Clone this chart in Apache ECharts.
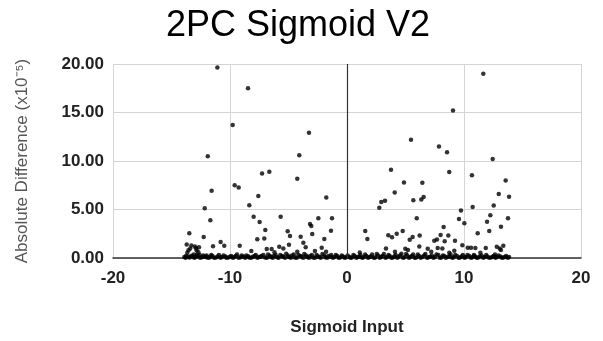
<!DOCTYPE html>
<html>
<head>
<meta charset="utf-8">
<script src="https://cdn.jsdelivr.net/npm/echarts@6/dist/echarts.min.js"></script>
<style>
  html, body { margin: 0; padding: 0; background: #fff; }
  #chart { width: 603px; height: 341px; }
</style>
</head>
<body>
<div id="chart"></div>
<script>
// values: [sigmoid input, absolute difference x1e-5]
var leftPoints = [
  [-11.08, 19.65], [-11.9, 10.5], [-8.46, 17.5], [-9.77, 13.7], [-3.25, 12.9], [-4.08, 10.6],
  [-11.57, 6.94], [-12.16, 5.13], [-11.68, 3.9], [-13.48, 2.55], [-12.25, 2.17], [-10.8, 1.66],
  [-10.49, 1.26], [-11.45, 1.22], [-13.7, 1.39], [-13.0, 1.19], [-12.65, 1.12], [-13.4, 0.98],
  [-12.85, 0.78], [-13.65, 0.54], [-13.1, 0.37], [-12.6, 0.3], [-12.0, 0.27], [-13.3, 1.3],
  [-12.9, 1.0], [-13.55, 0.8], [-12.7, 0.6],
  [-7.26, 8.7], [-6.64, 8.9], [-9.6, 7.5], [-9.26, 7.28], [-4.25, 8.16], [-7.58, 6.39],
  [-1.77, 6.25], [-8.35, 5.44], [-7.98, 4.25], [-7.47, 3.7], [-5.67, 4.25], [-2.45, 4.11],
  [-1.28, 4.11], [-3.16, 3.5], [-3.05, 3.3], [-6.98, 2.89], [-5.07, 2.75], [-4.87, 2.28],
  [-1.37, 2.82], [-2.97, 2.48], [-3.96, 2.2], [-1.94, 1.97], [-7.67, 1.94], [-7.07, 2.0],
  [-3.73, 1.56], [-4.96, 1.36], [-9.17, 1.26], [-5.79, 1.15], [-3.53, 1.12], [-6.86, 0.92],
  [-6.44, 0.92], [-5.44, 0.98], [-2.16, 1.05], [-8.18, 0.71], [-2.74, 0.71], [-1.79, 0.64],
  [-4.25, 0.64], [-6.2, 0.6]
];
var rightPoints = [
  [9.06, 15.2], [5.47, 12.2], [7.86, 11.5], [8.55, 10.9], [11.65, 19.0], [12.45, 10.2],
  [3.76, 9.11], [8.74, 8.87], [10.68, 8.53], [4.87, 7.79], [6.44, 7.75], [4.08, 6.76],
  [3.25, 5.91], [2.93, 5.78], [2.76, 5.17], [5.67, 5.95], [6.55, 6.29], [6.35, 6.02],
  [10.74, 5.27], [9.74, 4.9], [5.96, 4.11], [9.57, 4.01], [10.03, 3.57], [1.56, 2.79],
  [1.74, 1.97], [3.53, 2.35], [3.85, 2.14], [4.25, 2.51], [4.76, 2.79], [8.26, 3.19],
  [8.0, 2.38], [8.66, 2.31], [5.61, 2.17], [6.21, 2.31], [5.36, 1.87], [7.46, 1.77],
  [7.69, 1.9], [8.35, 1.73], [9.23, 1.77], [9.86, 1.32], [3.33, 0.98], [4.98, 0.95],
  [5.21, 0.82], [6.18, 1.19], [6.9, 0.95], [7.2, 0.64], [7.75, 1.02], [8.15, 0.98],
  [8.74, 0.54], [9.17, 0.74], [10.32, 1.05], [10.6, 1.05], [1.09, 0.57], [4.1, 0.64],
  [13.56, 7.99], [12.97, 6.59], [13.85, 6.32], [12.54, 5.41], [12.25, 4.42], [13.76, 4.11],
  [11.97, 3.73], [13.16, 3.23], [12.16, 2.79], [11.17, 2.55], [13.36, 1.26], [12.8, 1.15],
  [11.86, 1.02], [10.97, 1.02], [13.05, 0.98], [13.16, 0.82], [11.4, 0.54], [10.85, 0.3],
  [12.65, 0.37]
];
// the dense band of almost-zero differences
var nearZero = [
  [-13.9, 0.1], [-13.75, 0.2], [-13.45, 0.05], [-13.2, 0.15], [-12.95, 0.1], [-12.75, 0.2],
  [-12.4, 0.08], [-12.2, 0.15], [-11.95, 0.05], [-11.7, 0.12], [-11.5, 0.2], [-11.2, 0.06],
  [-10.95, 0.3], [-10.7, 0.1], [-10.4, 0.15], [-10.15, 0.05], [-9.9, 0.2], [-9.65, 0.1],
  [-9.4, 0.35], [-9.1, 0.08], [-8.85, 0.15], [-8.6, 0.25], [-8.35, 0.05], [-8.05, 0.12],
  [-7.8, 0.3], [-7.55, 0.1], [-7.3, 0.2], [-7.0, 0.05], [-6.75, 0.35], [-6.5, 0.1],
  [-6.25, 0.2], [-5.95, 0.08], [-5.7, 0.3], [-5.45, 0.12], [-5.2, 0.45], [-4.95, 0.1],
  [-4.7, 0.25], [-4.45, 0.05], [-4.15, 0.3], [-3.9, 0.15], [-3.65, 0.4], [-3.4, 0.1],
  [-3.15, 0.2], [-2.9, 0.05], [-2.6, 0.3], [-2.35, 0.12], [-2.1, 0.4], [-1.85, 0.08],
  [-1.6, 0.2], [-1.35, 0.3], [-1.1, 0.1], [-0.85, 0.2], [-0.6, 0.05], [-0.35, 0.15],
  [-0.1, 0.08], [0.15, 0.12], [0.4, 0.05], [0.65, 0.2], [0.9, 0.1], [1.15, 0.3],
  [1.4, 0.08], [1.65, 0.2], [1.9, 0.1], [2.15, 0.35], [2.4, 0.05], [2.65, 0.25],
  [2.9, 0.12], [3.15, 0.4], [3.4, 0.1], [3.65, 0.2], [3.9, 0.05], [4.15, 0.3],
  [4.4, 0.15], [4.65, 0.45], [4.9, 0.08], [5.15, 0.25], [5.4, 0.1], [5.65, 0.35],
  [5.9, 0.05], [6.15, 0.2], [6.45, 0.12], [6.7, 0.4], [6.95, 0.08], [7.25, 0.25],
  [7.5, 0.1], [7.8, 0.3], [8.05, 0.05], [8.3, 0.2], [8.6, 0.12], [8.85, 0.35],
  [9.1, 0.08], [9.4, 0.2], [9.65, 0.05], [9.9, 0.3], [10.15, 0.1], [10.45, 0.2],
  [10.7, 0.08], [10.95, 0.15], [11.2, 0.05], [11.5, 0.25], [11.75, 0.1], [12.0, 0.15],
  [12.3, 0.05], [12.55, 0.2], [12.8, 0.1], [13.1, 0.15], [13.35, 0.05], [13.6, 0.2],
  [13.85, 0.1]
];
var nearZeroB = [
  [-13.8, 0.02], [-13.55, 0.12], [-13.3, 0.22], [-13.05, 0.02], [-12.85, 0.3], [-12.55, 0.02],
  [-12.3, 0.25], [-12.05, 0.12], [-11.8, 0.02], [-11.6, 0.3], [-11.35, 0.02], [-11.05, 0.15],
  [-10.8, 0.02], [-10.55, 0.25], [-10.3, 0.02], [-10.0, 0.12], [-9.75, 0.02], [-9.5, 0.2],
  [-9.25, 0.02], [-9.0, 0.25], [-8.7, 0.02], [-8.45, 0.18], [-8.2, 0.02], [-7.9, 0.2],
  [-7.65, 0.02], [-7.4, 0.12], [-7.15, 0.3], [-6.85, 0.02], [-6.6, 0.22], [-6.35, 0.02],
  [-6.1, 0.3], [-5.85, 0.02], [-5.55, 0.2], [-5.3, 0.02], [-5.05, 0.25], [-4.8, 0.02],
  [-4.55, 0.35], [-4.3, 0.02], [-4.0, 0.2], [-3.75, 0.02], [-3.5, 0.25], [-3.25, 0.02],
  [-3.0, 0.3], [-2.75, 0.02], [-2.5, 0.15], [-2.25, 0.02], [-1.95, 0.25], [-1.7, 0.02],
  [-1.45, 0.12], [-1.2, 0.02], [-0.95, 0.3], [-0.7, 0.02], [-0.45, 0.25], [-0.2, 0.02],
  [0.05, 0.25], [0.3, 0.02], [0.55, 0.3], [0.8, 0.02], [1.05, 0.12], [1.3, 0.02],
  [1.55, 0.35], [1.8, 0.02], [2.05, 0.15], [2.3, 0.02], [2.55, 0.4], [2.8, 0.02],
  [3.05, 0.2], [3.3, 0.02], [3.55, 0.3], [3.8, 0.02], [4.05, 0.15], [4.3, 0.02],
  [4.55, 0.25], [4.8, 0.02], [5.05, 0.4], [5.3, 0.02], [5.55, 0.2], [5.8, 0.02],
  [6.05, 0.35], [6.3, 0.02], [6.6, 0.25], [6.85, 0.02], [7.1, 0.12], [7.4, 0.02],
  [7.65, 0.35], [7.95, 0.02], [8.2, 0.25], [8.45, 0.02], [8.75, 0.15], [9.0, 0.02],
  [9.25, 0.3], [9.55, 0.02], [9.8, 0.15], [10.05, 0.02], [10.3, 0.3], [10.6, 0.02],
  [10.85, 0.2], [11.1, 0.02], [11.35, 0.15], [11.65, 0.02], [11.9, 0.3], [12.15, 0.02],
  [12.45, 0.12], [12.7, 0.02], [12.95, 0.25], [13.25, 0.02], [13.5, 0.1], [13.75, 0.02]
];
var xTicks = [-20, -10, 0, 10, 20];
var yTicks = [0, 5, 10, 15, 20];

var chart = echarts.init(document.getElementById('chart'), null, { renderer: 'canvas' });

var font = 'Liberation Sans, Arial, sans-serif';
var option = {
  animation: false,
  backgroundColor: '#fff',
  title: {
    text: '2PC Sigmoid V2',
    left: 161,
    top: 3,
    textStyle: { fontFamily: font, fontSize: 36, fontWeight: 'normal', color: '#000' }
  },
  grid: { left: 113, right: 22, top: 64, bottom: 81 },
  xAxis: {
    type: 'value',
    min: xTicks[0],
    max: xTicks[xTicks.length - 1],
    interval: 10,
    name: 'Sigmoid Input',
    nameLocation: 'middle',
    nameGap: 61,
    nameTextStyle: { fontFamily: font, fontSize: 17, fontWeight: 'bold', color: '#222' },
    axisLine: { show: true, lineStyle: { color: '#333', width: 1.5 } },
    axisTick: { show: false },
    axisLabel: { fontFamily: font, fontSize: 17, fontWeight: 'bold', color: '#222', margin: 12 },
    splitLine: { show: true, lineStyle: { color: '#d4d4d4', width: 1 } }
  },
  yAxis: {
    type: 'value',
    min: yTicks[0],
    max: yTicks[yTicks.length - 1],
    interval: 5,
    name: 'Absolute Difference (x10⁻⁵)',
    nameLocation: 'middle',
    nameGap: 82,
    nameTextStyle: { fontFamily: font, fontSize: 17, color: '#555' },
    axisLine: { show: false },
    axisTick: { show: false },
    axisLabel: {
      fontFamily: font, fontSize: 17, fontWeight: 'bold', color: '#222', margin: 9,
      formatter: function (v) { return v.toFixed(2); }
    },
    splitLine: { show: true, lineStyle: { color: '#d4d4d4', width: 1 } }
  },
  series: [{
    type: 'scatter',
    symbolSize: 4.5,
    itemStyle: { color: '#000' },
    data: nearZero.concat(nearZeroB, leftPoints, rightPoints),
    markLine: {
      silent: true,
      symbol: 'none',
      label: { show: false },
      lineStyle: { color: '#333', width: 1.2, type: 'solid' },
      data: [{ xAxis: 0 }]
    }
  }]
};
chart.setOption(option);
</script>
</body>
</html>
